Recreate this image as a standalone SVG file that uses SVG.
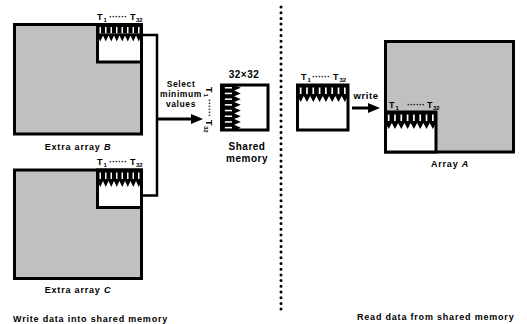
<svg xmlns="http://www.w3.org/2000/svg" width="527" height="324" viewBox="0 0 527 324">
<style>
text{font-family:"Liberation Sans",Arial,sans-serif;font-weight:bold;fill:#000}
.lbl{font-size:9px;letter-spacing:0.8px}
.t{font-size:9px}
.sub{font-size:6px}
.box{stroke:#000;stroke-width:3}
.gray{fill:#c0c0c0}
.white{fill:#fff}
.conn{fill:none;stroke:#000;stroke-width:2.5}
</style>
<defs>
<g id="comb">
<rect x="0" y="0" width="48" height="10" fill="#000"/>
<g fill="#fff">
<rect x="2.2" y="3.5" width="1.6" height="6.5"/>
<rect x="8.2" y="3.5" width="1.6" height="6.5"/>
<rect x="14.2" y="3.5" width="1.6" height="6.5"/>
<rect x="20.2" y="3.5" width="1.6" height="6.5"/>
<rect x="26.2" y="3.5" width="1.6" height="6.5"/>
<rect x="32.2" y="3.5" width="1.6" height="6.5"/>
<rect x="38.2" y="3.5" width="1.6" height="6.5"/>
<rect x="44.2" y="3.5" width="1.6" height="6.5"/>
</g>
<polygon fill="#000" points="0,10 48,10 48,12 45,18 42,12 39,18 36,12 33,18 30,12 27,18 24,12 21,18 18,12 15,18 12,12 9,18 6,12 3,18 0,12"/>
</g>
<marker id="arr" viewBox="0 0 12 10" refX="4" refY="5" markerWidth="12" markerHeight="10" markerUnits="userSpaceOnUse" orient="auto">
<path d="M0,0 L12,5 L0,10 Z" fill="#000"/>
</marker>
</defs>

<g id="arrayB">
<rect class="box gray" x="14.5" y="24.5" width="127" height="109.5"/>
<rect class="box white" x="97.5" y="24.5" width="44" height="37.5"/>
<use href="#comb" transform="translate(97.5,23.5) scale(0.917,1)"/>
<text class="t" x="97" y="20">T<tspan class="sub" x="103.5" y="22">1</tspan><tspan x="109" y="20">······</tspan><tspan x="130" y="20">T</tspan><tspan class="sub" x="136" y="22">32</tspan></text>
<text class="lbl" x="78" y="150" text-anchor="middle">Extra array <tspan font-style="italic">B</tspan></text>
</g>

<g id="arrayC">
<rect class="box gray" x="14.5" y="170" width="127" height="108.5"/>
<rect class="box white" x="97.5" y="170" width="44" height="37.5"/>
<use href="#comb" transform="translate(97.5,169) scale(0.917,1)"/>
<text class="t" x="97" y="165">T<tspan class="sub" x="103.5" y="167">1</tspan><tspan x="109" y="165">······</tspan><tspan x="130" y="165">T</tspan><tspan class="sub" x="136" y="167">32</tspan></text>
<text class="lbl" x="78" y="293" text-anchor="middle">Extra array <tspan font-style="italic">C</tspan></text>
</g>

<g id="connectors">
<polyline class="conn" points="141,35 157,35 157,195.5 141,195.5"/>
<line x1="157" y1="119" x2="195" y2="119" stroke="#000" stroke-width="3" marker-end="url(#arr)"/>
<line x1="352" y1="108" x2="372" y2="108" stroke="#000" stroke-width="3" marker-end="url(#arr)"/>
</g>

<g id="selectLabel">
<text x="181" y="87" text-anchor="middle" style="font-size:8.5px;letter-spacing:0.6px">Select</text>
<text x="181" y="97" text-anchor="middle" style="font-size:8.5px;letter-spacing:0.6px">minimum</text>
<text x="181" y="107" text-anchor="middle" style="font-size:8.5px;letter-spacing:0.6px">values</text>
</g>

<g id="sharedMemory">
<rect class="box white" x="221.5" y="85" width="46.5" height="45"/>
<use href="#comb" transform="translate(221,130.5) rotate(-90) scale(0.95,1.1)"/>
<text class="t" transform="translate(206,87) rotate(90)" x="0" y="0">T<tspan class="sub" x="6.5" y="2">1</tspan><tspan x="12" y="0">······</tspan><tspan x="33" y="0">T</tspan><tspan class="sub" x="39" y="2">32</tspan></text>
<text x="244" y="78" text-anchor="middle" style="font-size:10px;letter-spacing:0.5px">32×32</text>
<text x="247" y="150" text-anchor="middle" style="font-size:10px;letter-spacing:0.5px">Shared</text>
<text x="247" y="162" text-anchor="middle" style="font-size:10px;letter-spacing:0.5px">memory</text>
</g>

<g id="divider">
<line x1="281" y1="7" x2="281" y2="313" stroke="#000" stroke-width="3" stroke-dasharray="0 5.7" stroke-linecap="round"/>
</g>

<g id="sharedCopy">
<rect class="box white" x="297.5" y="85" width="50.5" height="45"/>
<use href="#comb" transform="translate(297.5,84) scale(1.052,1)"/>
<text class="t" x="301" y="80">T<tspan class="sub" x="307.5" y="82">1</tspan><tspan x="312" y="80">······</tspan><tspan x="333" y="80">T</tspan><tspan class="sub" x="339.5" y="82">32</tspan></text>
<text x="366" y="99" text-anchor="middle" style="font-size:9.5px;letter-spacing:0.6px">write</text>
</g>

<g id="arrayA">
<rect class="box gray" x="385.5" y="41.5" width="128" height="110.5"/>
<rect class="box white" x="385.5" y="112" width="50.5" height="40"/>
<use href="#comb" transform="translate(385.5,111) scale(1.052,1)"/>
<text class="t" x="389" y="108">T<tspan class="sub" x="395.5" y="110">1</tspan><tspan x="407" y="108">······</tspan><tspan x="427" y="108">T</tspan><tspan class="sub" x="433" y="110">32</tspan></text>
<text class="lbl" x="450" y="167" text-anchor="middle">Array <tspan font-style="italic">A</tspan></text>
</g>

<g id="captions">
<text class="lbl" x="13" y="322">Write data into shared memory</text>
<text class="lbl" x="357" y="320">Read data from shared memory</text>
</g>
</svg>
